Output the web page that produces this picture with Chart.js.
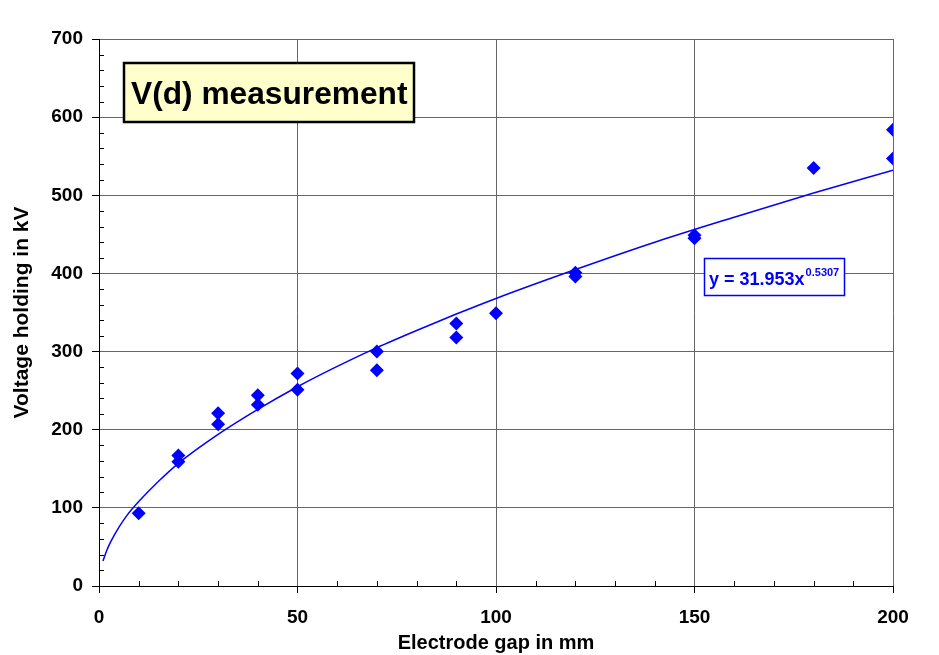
<!DOCTYPE html>
<html>
<head>
<meta charset="utf-8">
<script src="https://cdn.jsdelivr.net/npm/chart.js@4.4.1/dist/chart.umd.min.js"></script>
<style>
html, body { margin: 0; padding: 0; background: #fff; }
</style>
</head>
<body>
<canvas id="chart" width="939" height="655"></canvas>
<script>
// measured breakdown points: electrode gap (mm) / voltage (kV)
const gapMm = [10, 20, 20, 30, 30, 40, 40, 50, 50, 70, 70, 90, 90, 100, 120, 120, 150, 150, 180, 200, 200];
const voltageKv = [93, 167, 159, 221, 207, 244, 232, 272, 251, 300, 276, 336, 318, 349, 401, 396, 449, 445, 535, 584, 547];

// power-law trend line
const fitGap = [1, 2, 3, 5, 7, 10, 15, 20, 30, 40, 50, 60, 70, 80, 90, 100, 120, 140, 160, 180, 200];
const fitKv = [32, 46, 57, 75, 90, 108, 134, 157, 194, 226, 255, 281, 305, 327, 348, 368, 405, 440, 472, 503, 532];

const xTicks = [0, 50, 100, 150, 200];
const yTicks = [0, 100, 200, 300, 400, 500, 600, 700];

const boxTitle = 'V(d) measurement';
const fitText = 'y = 31.953x';
const fitExp = '0.5307';

const FONT = '"Liberation Sans", Arial, sans-serif';

// minor ticks (inside the plot) + the two text boxes
const extras = {
    id: 'extras',
    afterDraw(chart) {
        const {ctx, chartArea: a} = chart;
        const x = chart.scales.x, y = chart.scales.y;
        ctx.save();
        ctx.strokeStyle = '#000';
        ctx.lineWidth = 1;
        ctx.beginPath();
        for (let v = 10; v < 200; v += 10) {
            if (v % 50 === 0) continue;
            const px = Math.round(x.getPixelForValue(v)) + 0.5;
            ctx.moveTo(px, a.bottom);
            ctx.lineTo(px, a.bottom - 5);
        }
        for (let v = 20; v < 700; v += 20) {
            if (v % 100 === 0) continue;
            const py = Math.round(y.getPixelForValue(v)) + 0.5;
            ctx.moveTo(a.left, py);
            ctx.lineTo(a.left + 5, py);
        }
        ctx.stroke();

        // title box
        ctx.fillStyle = '#ffffcc';
        ctx.fillRect(124, 63, 290, 59);
        ctx.lineWidth = 2.5;
        ctx.strokeRect(124, 63, 290, 59);
        ctx.fillStyle = '#000';
        ctx.font = 'bold 31.7px ' + FONT;
        ctx.textBaseline = 'alphabetic';
        ctx.textAlign = 'left';
        ctx.fillText(boxTitle, 131, 104);

        // equation box
        ctx.fillStyle = '#fff';
        ctx.fillRect(704.5, 258.5, 140, 37);
        ctx.strokeStyle = '#0000ff';
        ctx.lineWidth = 1.5;
        ctx.strokeRect(704.5, 258.5, 140, 37);
        ctx.fillStyle = '#0000ff';
        ctx.font = 'bold 18px ' + FONT;
        ctx.fillText(fitText, 709, 285);
        const w = ctx.measureText(fitText).width;
        ctx.font = 'bold 11px ' + FONT;
        ctx.fillText(fitExp, 709 + w + 1, 276);
        ctx.restore();
    }
};

new Chart(document.getElementById('chart'), {
    type: 'scatter',
    data: {
        datasets: [{
            label: 'measurement',
            data: gapMm.map((g, i) => ({x: g, y: voltageKv[i]})),
            pointStyle: 'rectRot',
            pointRadius: 7,
            pointHoverRadius: 7,
            backgroundColor: '#0000ff',
            borderWidth: 0,
            order: 1
        }, {
            label: 'fit',
            data: fitGap.map((g, i) => ({x: g, y: fitKv[i]})),
            showLine: true,
            borderColor: '#0000ff',
            borderWidth: 1.5,
            pointRadius: 0,
            cubicInterpolationMode: 'monotone',
            order: 2
        }]
    },
    options: {
        responsive: false,
        animation: false,
        devicePixelRatio: 1,
        layout: {padding: {left: 0, top: 39, right: 46, bottom: 0}},
        plugins: {legend: {display: false}, tooltip: {enabled: false}},
        scales: {
            x: {
                type: 'linear',
                min: 0, max: 200,
                afterBuildTicks: s => { s.ticks = xTicks.map(v => ({value: v})); },
                afterFit: s => { s.height = 69; },
                grid: {color: '#666', tickColor: '#000', tickLength: 7},
                border: {color: '#000', width: 1},
                ticks: {color: '#000', font: {family: FONT, size: 19, weight: 'bold'}, padding: 13, maxRotation: 0},
                title: {display: true, text: 'Electrode gap in mm', color: '#000',
                        font: {family: FONT, size: 20, weight: 'bold'}, padding: {top: 0, bottom: 0}}
            },
            y: {
                type: 'linear',
                min: 0, max: 700,
                afterBuildTicks: s => { s.ticks = yTicks.map(v => ({value: v})); },
                afterFit: s => { s.width = 99; },
                grid: {color: '#666', tickColor: '#000', tickLength: 7},
                border: {color: '#000', width: 1},
                ticks: {color: '#000', font: {family: FONT, size: 19, weight: 'bold'}, padding: 9},
                title: {display: true, text: 'Voltage holding in kV', color: '#000',
                        font: {family: FONT, size: 21, weight: 'bold'}, padding: {top: 10, bottom: 0}}
            }
        }
    },
    plugins: [extras]
});
</script>
</body>
</html>
